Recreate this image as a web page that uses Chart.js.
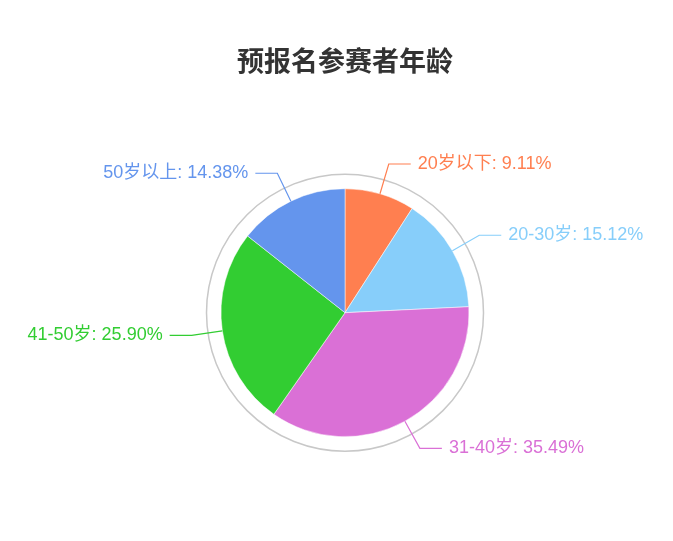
<!DOCTYPE html>
<html>
<head>
<meta charset="utf-8">
<script src="https://cdn.jsdelivr.net/npm/chart.js@4"></script>
<style>
  html, body { margin: 0; padding: 0; background: #fff; }
  #wrap { width: 673px; height: 541px; }
</style>
</head>
<body>
<div id="wrap"><canvas id="ageChart"></canvas></div>
<script>
// age groups and their share (%)
const ageLabels = ['20岁以下', '20-30岁', '31-40岁', '41-50岁', '50岁以上'];
const ageShares = [9.11, 15.12, 35.49, 25.90, 14.38];
const sliceColors = ['#ff7f50', '#87cefa', '#da70d6', '#32cd32', '#6495ed'];

const labelFont = '18px "Liberation Sans", Arial, "Noto Sans CJK SC", sans-serif';

// gray ring around the pie
const outerRing = {
    id: 'outerRing',
    beforeDatasetsDraw(chart) {
        const arc = chart.getDatasetMeta(0).data[0];
        if (!arc) return;
        const { x, y, outerRadius } = arc.getProps(['x', 'y', 'outerRadius'], true);
        const ctx = chart.ctx;
        ctx.save();
        ctx.beginPath();
        ctx.arc(x, y, outerRadius + 14.5, 0, Math.PI * 2);
        ctx.strokeStyle = '#c8c8c8';
        ctx.lineWidth = 1.5;
        ctx.stroke();
        ctx.restore();
    }
};

// outside labels with leader lines
const sliceLabels = {
    id: 'sliceLabels',
    afterDatasetsDraw(chart) {
        const ctx = chart.ctx;
        const meta = chart.getDatasetMeta(0);
        ctx.save();
        ctx.font = labelFont;
        ctx.textBaseline = 'middle';
        meta.data.forEach((arc, i) => {
            const p = arc.getProps(['x', 'y', 'startAngle', 'endAngle', 'outerRadius'], true);
            const mid = (p.startAngle + p.endAngle) / 2;
            const cos = Math.cos(mid), sin = Math.sin(mid);
            const x0 = p.x + cos * p.outerRadius, y0 = p.y + sin * p.outerRadius;
            const x1 = p.x + cos * (p.outerRadius + 31), y1 = p.y + sin * (p.outerRadius + 31);
            const dir = cos >= 0 ? 1 : -1;
            const x2 = x1 + dir * 22;
            ctx.strokeStyle = sliceColors[i];
            ctx.lineWidth = 1.2;
            ctx.beginPath();
            ctx.moveTo(x0, y0);
            ctx.lineTo(x1, y1);
            ctx.lineTo(x2, y1);
            ctx.stroke();
            ctx.fillStyle = sliceColors[i];
            ctx.textAlign = dir > 0 ? 'left' : 'right';
            ctx.fillText(ageLabels[i] + ': ' + ageShares[i].toFixed(2) + '%', x2 + dir * 7, y1);
        });
        ctx.restore();
    }
};

const ctx = document.getElementById('ageChart').getContext('2d');
const ageChart = new Chart(ctx, {
    type: 'pie',
    data: {
        labels: ageLabels,
        datasets: [{
            data: ageShares,
            backgroundColor: sliceColors,
            borderColor: '#ffffff',
            borderWidth: 0.5
        }]
    },
    options: {
        responsive: true,
        maintainAspectRatio: false,
        animation: false,
        radius: 124,
        layout: { padding: { left: 17, right: 0, top: 0, bottom: 0 } },
        plugins: {
            legend: { display: false },
            tooltip: { enabled: false },
            title: {
                display: true,
                text: '预报名参赛者年龄',
                color: '#333333',
                font: { size: 27, weight: 'bold', family: '"Noto Sans CJK SC", sans-serif', lineHeight: 1.2 },
                padding: { top: 45, bottom: 7 }
            }
        }
    },
    plugins: [outerRing, sliceLabels]
});
</script>
</body>
</html>
